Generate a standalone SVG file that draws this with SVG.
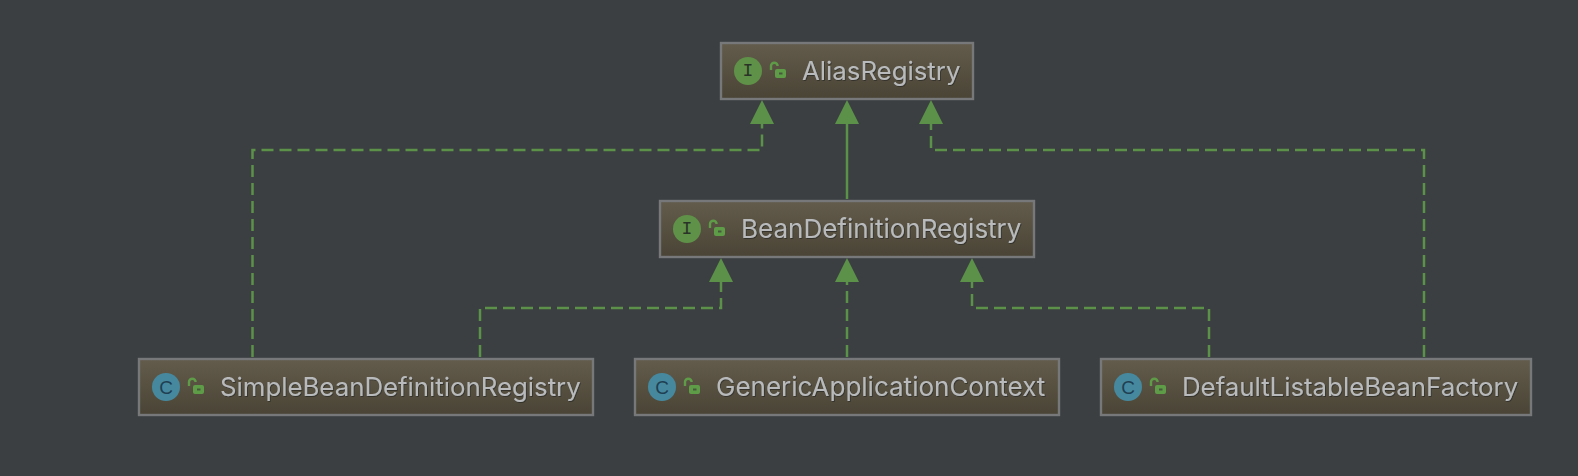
<svg xmlns="http://www.w3.org/2000/svg" width="1578" height="476" viewBox="0 0 1578 476">
<style>
.box{fill:url(#g);stroke:#76787a;stroke-width:2.400}
.t{font-family:"Inter","Liberation Sans",sans-serif;font-size:25.800px;fill:#b8babc;filter:url(#s)}
.w{font-size:26px}
.e{stroke:#5c9149;stroke-width:2.500;fill:none}
.d{stroke-dasharray:12 6}
.ci{fill:#5f9148}.cc{fill:#46899f}
.l{font-family:"Liberation Mono",monospace;font-size:18px;fill:#2a3327;text-anchor:middle}
.c{font-family:"Liberation Sans",sans-serif;font-size:19px;fill:#1f3f52;text-anchor:middle}
</style>
<defs>
<linearGradient id="g" x1="0" y1="0" x2="0" y2="1"><stop offset="0" stop-color="#635c4c"/><stop offset="1" stop-color="#4a4436"/></linearGradient>
<filter id="s" x="-5%" y="-20%" width="110%" height="140%"><feDropShadow dx="0.800" dy="1" stdDeviation="0.600" flood-color="#2a2a26" flood-opacity="0.800"/></filter>
<g id="lock"><path d="M-7 0v-4a3.300 3.300 0 0 1 6.600 0" fill="none" stroke="#5f9c48" stroke-width="2.400"/><rect x="-3" y="-1" width="11" height="9" rx="2" fill="#5f9c48"/><rect x="1" y="2.500" width="3.500" height="2" fill="#46593c"/></g>
</defs>
<rect width="1578" height="476" fill="#3b3f41"/>
<g id="connectors">
<path class="e d" d="M252.500 357V150H762V124"/>
<path class="e" d="M847 199V124"/>
<path class="e d" d="M1424 357V150H931V124"/>
<path class="e d" d="M480 357V308H721V282"/>
<path class="e d" d="M847 357V282"/>
<path class="e d" d="M1209 357V308H972V282"/>
<path d="M750 124L762 100L774 124ZM835 124L847 100L859 124ZM919 124L931 100L943 124ZM709 282L721 258L733 282ZM835 282L847 258L859 282ZM960 282L972 258L984 282Z" fill="#5c9149"/>
</g>
<g id="AliasRegistry"><rect class="box" x="721" y="43" width="252" height="56"/><circle class="ci" cx="748" cy="71" r="14"/><text class="l" x="748" y="76">I</text><use href="#lock" x="778" y="70"/><text class="t" x="802" y="80">AliasRegistry</text></g>
<g id="BeanDefinitionRegistry"><rect class="box" x="660" y="201" width="374" height="56"/><circle class="ci" cx="687" cy="229" r="14"/><text class="l" x="687" y="234">I</text><use href="#lock" x="717" y="228"/><text class="t w" x="741" y="238">BeanDefinitionRegistry</text></g>
<g id="SimpleBeanDefinitionRegistry"><rect class="box" x="139" y="359" width="454" height="56"/><circle class="cc" cx="166" cy="387" r="14"/><text class="c" x="166" y="394">C</text><use href="#lock" x="196" y="386"/><text class="t" x="220" y="396">SimpleBeanDefinitionRegistry</text></g>
<g id="GenericApplicationContext"><rect class="box" x="635" y="359" width="424" height="56"/><circle class="cc" cx="662" cy="387" r="14"/><text class="c" x="662" y="394">C</text><use href="#lock" x="692" y="386"/><text class="t w" x="716" y="396">GenericApplicationContext</text></g>
<g id="DefaultListableBeanFactory"><rect class="box" x="1101" y="359" width="430" height="56"/><circle class="cc" cx="1128" cy="387" r="14"/><text class="c" x="1128" y="394">C</text><use href="#lock" x="1158" y="386"/><text class="t" x="1182" y="396">DefaultListableBeanFactory</text></g>
</svg>
